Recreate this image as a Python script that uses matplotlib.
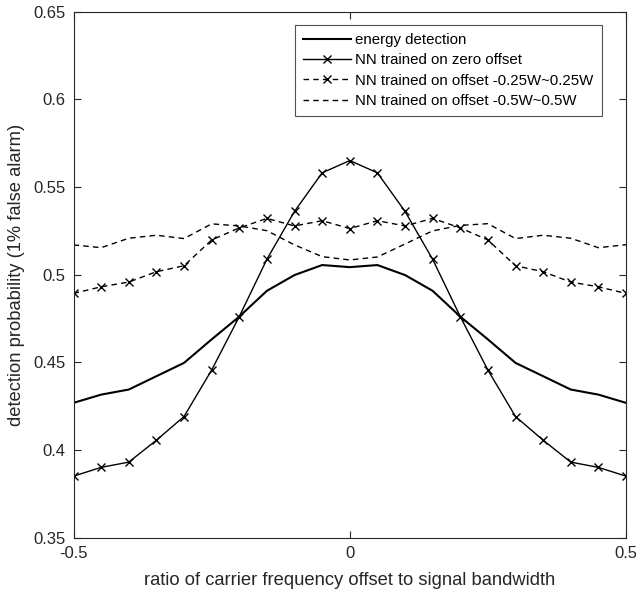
import numpy as np
import matplotlib
matplotlib.use("Agg")
import matplotlib.pyplot as plt

plt.rcParams['font.family'] = ['Liberation Sans', 'DejaVu Sans']

# offset ratio
x = np.round(np.arange(-0.5, 0.5001, 0.05), 2)

energy = [0.4268, 0.4315, 0.4344, 0.4420, 0.4496, 0.4630, 0.4760, 0.4907, 0.4997, 0.5054, 0.5042,
          0.5054, 0.4997, 0.4907, 0.4760, 0.4630, 0.4496, 0.4420, 0.4344, 0.4315, 0.4268]
nn_zero = [0.3850, 0.3900, 0.3930, 0.4055, 0.4190, 0.4455, 0.4760, 0.5087, 0.5360, 0.5580, 0.5650,
           0.5580, 0.5360, 0.5087, 0.4760, 0.4455, 0.4190, 0.4055, 0.3930, 0.3900, 0.3850]
nn_025 = [0.4892, 0.4930, 0.4957, 0.5016, 0.5050, 0.5197, 0.5266, 0.5320, 0.5277, 0.5307, 0.5262,
          0.5307, 0.5277, 0.5320, 0.5266, 0.5197, 0.5050, 0.5016, 0.4957, 0.4930, 0.4892]
nn_05 = [0.5169, 0.5153, 0.5207, 0.5224, 0.5205, 0.5289, 0.5277, 0.5250, 0.5169, 0.5102, 0.5083,
         0.5100, 0.5174, 0.5249, 0.5280, 0.5290, 0.5205, 0.5224, 0.5207, 0.5153, 0.5170]

labels = ['energy detection', 'NN trained on zero offset',
          'NN trained on offset -0.25W~0.25W', 'NN trained on offset -0.5W~0.5W']

fig = plt.figure(figsize=(6.36, 5.94), dpi=100)
ax = fig.add_axes([0.1156, 0.0951, 0.8687, 0.8855])

ax.plot(x, energy, color='k', lw=1.5, label=labels[0])
ax.plot(x, nn_zero, color='k', lw=1.0, marker='x', ms=6, mew=1.0, label=labels[1])
ax.plot(x, nn_025, color='k', lw=1.0, ls=(0, (4, 3)), marker='x', ms=6, mew=1.0, label=labels[2])
ax.plot(x, nn_05, color='k', lw=1.0, ls=(0, (4, 3)), label=labels[3])

ax.set_xlim(-0.5, 0.5)
ax.set_ylim(0.35, 0.65)
ax.set_xticks([-0.5, 0, 0.5])
ax.set_xticklabels(['-0.5', '0', '0.5'])
ax.set_yticks([0.35, 0.4, 0.45, 0.5, 0.55, 0.6, 0.65])
ax.set_yticklabels(['0.35', '0.4', '0.45', '0.5', '0.55', '0.6', '0.65'])
ax.tick_params(direction='in', top=True, right=True, length=5, width=0.8,
               colors='#262626', labelsize=12, pad=6)
for s in ax.spines.values():
    s.set_color('#262626')
    s.set_linewidth(0.8)

ax.set_xlabel('ratio of carrier frequency offset to signal bandwidth', fontsize=13.2,
              color='#262626', labelpad=8)
ax.set_ylabel('detection probability (1% false alarm)', fontsize=13.2, color='#262626',
              labelpad=6)

leg = ax.legend(loc='upper right', bbox_to_anchor=(0.9565, 0.975), fontsize=10.8, frameon=True,
                fancybox=False, edgecolor='#262626', handlelength=3.2, handletextpad=0.27,
                labelspacing=0.42, borderpad=0.55, borderaxespad=0)
leg.get_frame().set_linewidth(0.8)

fig.savefig('out.png', dpi=100)
